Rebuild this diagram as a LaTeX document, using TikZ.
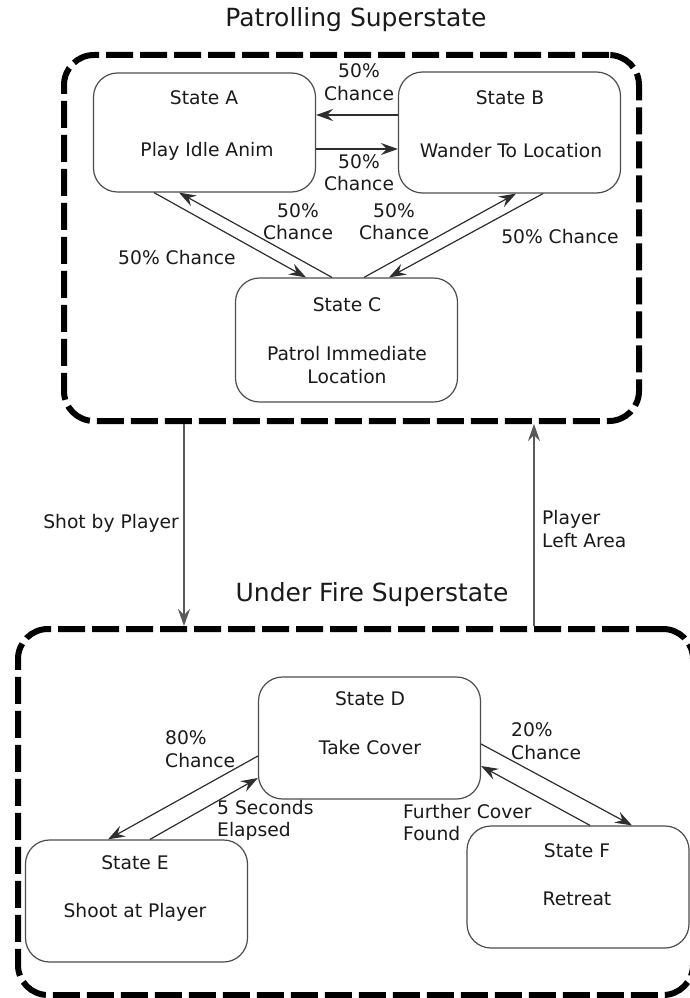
\documentclass[tikz,border=0pt]{standalone}
\usepackage{fontspec}
\setmainfont{DejaVu Sans}
\usetikzlibrary{arrows.meta}
\definecolor{boxgray}{HTML}{4D4D4D}
\definecolor{arrowcol}{HTML}{2E2E2E}
\definecolor{textcol}{HTML}{1A1A1A}
\begin{document}
\begin{tikzpicture}[x=1pt,y=-1pt,
  superbox/.style={rectangle, draw=black, line width=6pt, dash pattern=on 27pt off 7pt,
    rounded corners=30pt, inner sep=0pt},
  statebox/.style={rectangle, draw=boxgray, line width=1.2pt, rounded corners=24pt,
    inner sep=0pt, minimum width=222pt},
  txt/.style={font=\fontsize{18.7}{22.5}\selectfont, text=textcol, inner sep=0pt, align=center},
  lefttxt/.style={txt, align=left, anchor=west},
  title/.style={txt, font=\fontsize{25}{30}\selectfont},
  trans/.style={draw=arrowcol, line width=1.2pt, -{Stealth[length=17pt,width=12pt,inset=6pt]}},
  supertrans/.style={trans, draw=black!65}]
\useasboundingbox (0,0) rectangle (690,998);
\fill[white] (0,0) rectangle (690,998);

% ---------- Patrolling superstate ----------
\node[title] (tP) at (356,20) {Patrolling Superstate};
\node[superbox, minimum width=575pt, minimum height=366pt] (P) at (351.5,238) {};

\node[statebox, minimum height=119pt] (A) at (204.5,132.5) {};
\node[statebox, minimum height=121pt] (B) at (509.5,132.5) {};
\node[statebox, minimum height=124pt] (C) at (346.5,340) {};

\node[txt] (A1) at (204,98) {State A};
\node[txt] (A2) at (207,151) {Play Idle Anim};
\node[txt] (B1) at (510,98) {State B};
\node[txt] (B2) at (511,151) {Wander To Location};
\node[txt] (C1) at (347,305) {State C};
\node[txt] (C2) at (347,365) {Patrol Immediate\\Location};

% transitions between A and B
\draw[trans] ([yshift=17.5pt]B.west) -- ([yshift=17.5pt]A.east);
\draw[trans] ([yshift=-16.5pt]A.east) -- ([yshift=-16.5pt]B.west);
\node[txt] (lBA) at (359,82) {50\%\\Chance};
\node[txt] (lAB) at (359,172.5) {50\%\\Chance};

% transitions between A and C
\draw[trans] ([xshift=-50.5pt]A.south) -- ([xshift=-40.5pt]C.north);
\draw[trans] ([xshift=-14.5pt]C.north) -- ([xshift=-25.5pt]A.south);
\node[txt] (lAC) at (177,258) {50\% Chance};
\node[txt] (lCA) at (298,221.5) {50\%\\Chance};

% transitions between B and C
\draw[trans] ([xshift=17.5pt]C.north) -- ([xshift=6.5pt]B.south);
\draw[trans] ([xshift=33.5pt]B.south) -- ([xshift=42.5pt]C.north);
\node[txt] (lCB) at (394,221.5) {50\%\\Chance};
\node[txt] (lBC) at (560,237) {50\% Chance};

% ---------- Under fire superstate ----------
\node[title] (tU) at (372,595) {Under Fire Superstate};
\node[superbox, minimum width=675pt, minimum height=366pt] (U) at (355.5,812) {};

\node[statebox, minimum height=122pt] (D) at (369.5,738) {};
\node[statebox, minimum height=122pt] (E) at (136.5,901) {};
\node[statebox, minimum height=122pt] (F) at (578,887) {};

\node[txt] (D1) at (370,699) {State D};
\node[txt] (D2) at (370,748) {Take Cover};
\node[txt] (E1) at (135,863) {State E};
\node[txt] (E2) at (135,912) {Shoot at Player};
\node[txt] (F1) at (577,851) {State F};
\node[txt] (F2) at (577,899) {Retreat};

\draw[trans] ([yshift=-18pt]D.west) -- ([xshift=-28.5pt]E.north);
\draw[trans] ([xshift=13.5pt]E.north) -- ([yshift=-40pt]D.west);
\node[lefttxt] (lDE) at (165,749) {80\%\\Chance};
\node[lefttxt] (lED) at (217,820.5) {5 Seconds\\Elapsed};

\draw[trans] ([yshift=-6pt]D.east) -- ([xshift=54pt]F.north);
\draw[trans] ([xshift=12pt]F.north) -- ([yshift=-28pt]D.east);
\node[lefttxt] (lDF) at (511,741) {20\%\\Chance};
\node[lefttxt] (lFD) at (403,822.5) {Further Cover\\Found};

% ---------- transitions between superstates ----------
\coordinate (xdown) at (184,0);
\coordinate (xup) at (534,0);
\draw[supertrans] (P.south -| xdown) -- (U.north -| xdown);
\draw[supertrans] (U.north -| xup) -- (P.south -| xup);
\node[txt, anchor=east] (lPU) at (179,523) {Shot by Player};
\node[lefttxt] (lUP) at (542,529) {Player\\Left Area};
\end{tikzpicture}
\end{document}
